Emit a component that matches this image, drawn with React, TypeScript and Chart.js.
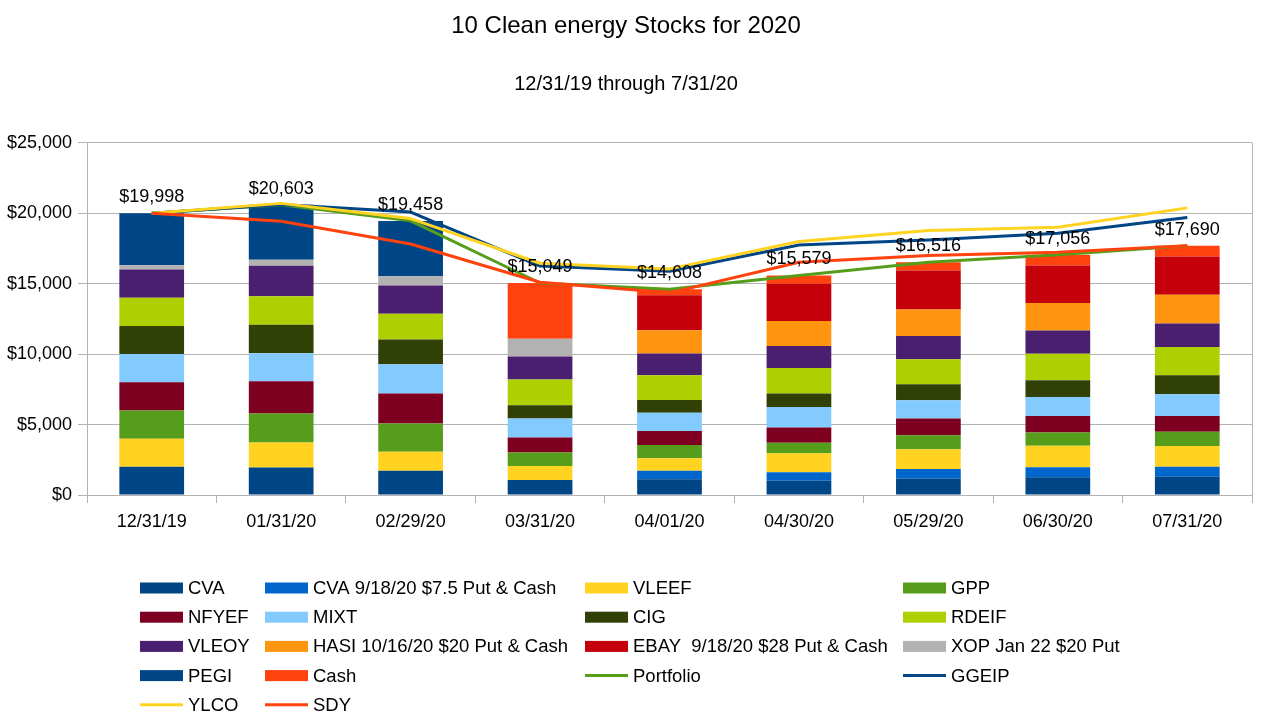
import React, { useEffect, useRef } from 'react';
import { Chart, registerables } from 'chart.js';

Chart.register(...registerables);

const categories = ['12/31/19', '01/31/20', '02/29/20', '03/31/20', '04/01/20', '04/30/20', '05/29/20', '06/30/20', '07/31/20'];

const cva = [2000, 1960, 1720, 1060, 1110, 1015, 1180, 1255, 1300];
const cvaPut = [0, 0, 0, 0, 610, 595, 660, 710, 710];
const vleef = [2000, 1770, 1345, 990, 880, 1345, 1415, 1530, 1465];
const gpp = [2000, 2050, 2010, 970, 945, 750, 990, 950, 1015];
const nfyef = [2000, 2290, 2125, 1060, 990, 1090, 1180, 1155, 1110];
const mixt = [2000, 2000, 2075, 1345, 1300, 1460, 1300, 1365, 1560];
const cig = [2000, 2010, 1770, 940, 900, 950, 1135, 1180, 1345];
const rdeif = [2000, 2030, 1820, 1840, 1770, 1815, 1770, 1890, 2005];
const vleoy = [2000, 2170, 2005, 1630, 1535, 1560, 1650, 1650, 1655];
const hasiPut = [0, 0, 0, 0, 1650, 1770, 1890, 1935, 2055];
const ebayPut = [0, 0, 0, 0, 2480, 2650, 2760, 2670, 2715];
const xopPut = [300, 425, 660, 1250, 0, 0, 0, 0, 0];
const pegi = [3698, 3898, 3928, 0, 0, 0, 0, 0, 0];
const cash = [0, 0, 0, 3964, 438, 579, 586, 766, 755];

const portfolio = [19998, 20603, 19458, 15049, 14608, 15579, 16516, 17056, 17690];
const ggeip = [19998, 20620, 20080, 16250, 15880, 17750, 18100, 18580, 19700];
const ylco = [19998, 20700, 19620, 16450, 16050, 17990, 18770, 19000, 20380];
const sdy = [19998, 19430, 17820, 15100, 14350, 16520, 17000, 17230, 17700];

const yTicks = [0, 5000, 10000, 15000, 20000, 25000];

const FONT = '"Liberation Sans", Arial, sans-serif';

const fmt = (v: number) => '$' + Math.round(v).toLocaleString('en-US');

export default function App() {
  const ref = useRef<HTMLCanvasElement>(null);

  useEffect(() => {
    document.body.style.margin = '0';
    const canvas = ref.current;
    if (!canvas) return;

    const barSeries = [
      { label: 'CVA', data: cva, color: '#004586' },
      { label: 'CVA 9/18/20 $7.5 Put & Cash', data: cvaPut, color: '#0066cc' },
      { label: 'VLEEF', data: vleef, color: '#ffd320' },
      { label: 'GPP', data: gpp, color: '#579d1c' },
      { label: 'NFYEF', data: nfyef, color: '#7e0021' },
      { label: 'MIXT', data: mixt, color: '#83caff' },
      { label: 'CIG', data: cig, color: '#314004' },
      { label: 'RDEIF', data: rdeif, color: '#aecf00' },
      { label: 'VLEOY', data: vleoy, color: '#4b1f6f' },
      { label: 'HASI 10/16/20 $20 Put & Cash', data: hasiPut, color: '#ff950e' },
      { label: 'EBAY  9/18/20 $28 Put & Cash', data: ebayPut, color: '#c5000b' },
      { label: 'XOP Jan 22 $20 Put', data: xopPut, color: '#b2b2b2' },
      { label: 'PEGI', data: pegi, color: '#004586' },
      { label: 'Cash', data: cash, color: '#ff420e' },
    ];
    const lineSeries = [
      { label: 'Portfolio', data: portfolio, color: '#579d1c' },
      { label: 'GGEIP', data: ggeip, color: '#004586' },
      { label: 'YLCO', data: ylco, color: '#ffd320' },
      { label: 'SDY', data: sdy, color: '#ff420e' },
    ];

    const datasets: any[] = [
      ...barSeries.map((s) => ({
        type: 'bar',
        label: s.label,
        data: s.data,
        backgroundColor: s.color,
        borderWidth: 0,
        stack: 'holdings',
        order: 10,
        barPercentage: 0.5,
        categoryPercentage: 1,
      })),
      ...lineSeries.map((s, i) => ({
        type: 'line',
        label: s.label,
        data: s.data,
        borderColor: s.color,
        backgroundColor: s.color,
        borderWidth: 3,
        pointRadius: 0,
        pointHoverRadius: 0,
        fill: false,
        tension: 0,
        borderJoinStyle: 'round',
        stack: 'line' + i,
        order: 4 - i,
      })),
    ];

    const legendCols = [140, 265, 585, 903];
    const legendTop = 588;
    const legendRowGap = 29.2;

    const frameAndLabels = {
      id: 'frameAndLabels',
      afterDatasetsDraw(chart: any) {
        const { ctx, chartArea, scales } = chart;
        ctx.save();
        ctx.strokeStyle = '#b3b3b3';
        ctx.lineWidth = 1;
        ctx.beginPath();
        ctx.moveTo(Math.round(chartArea.right) + 0.5, chartArea.top);
        ctx.lineTo(Math.round(chartArea.right) + 0.5, chartArea.bottom);
        ctx.stroke();
        ctx.fillStyle = '#000';
        ctx.font = `18px ${FONT}`;
        ctx.textAlign = 'center';
        ctx.textBaseline = 'middle';
        portfolio.forEach((v, i) => {
          const x = scales.x.getPixelForValue(i);
          const y = scales.y.getPixelForValue(v);
          ctx.fillText(fmt(v), x, y - 16);
        });
        ctx.restore();
      },
      afterDraw(chart: any) {
        const { ctx } = chart;
        ctx.save();
        ctx.font = `18.5px ${FONT}`;
        ctx.textAlign = 'left';
        ctx.textBaseline = 'middle';
        chart.data.datasets.forEach((ds: any, i: number) => {
          const col = i % 4;
          const row = Math.floor(i / 4);
          const x = legendCols[col];
          const y = legendTop + row * legendRowGap;
          if (ds.type === 'line') {
            ctx.strokeStyle = ds.borderColor;
            ctx.lineWidth = 3;
            ctx.beginPath();
            ctx.moveTo(x, y);
            ctx.lineTo(x + 43, y);
            ctx.stroke();
          } else {
            ctx.fillStyle = ds.backgroundColor;
            ctx.fillRect(x, y - 5.5, 43, 11);
          }
          ctx.fillStyle = '#000';
          ctx.fillText(ds.label, x + 48, y + 1);
        });
        ctx.restore();
      },
    };

    const chart = new Chart(canvas, {
      type: 'bar',
      data: { labels: categories, datasets },
      options: {
        responsive: false,
        animation: false,
        devicePixelRatio: 1,
        layout: { padding: { left: 0, right: 15, top: 0, bottom: 150 } },
        plugins: {
          legend: { display: false },
          tooltip: { enabled: false },
          title: {
            display: true,
            text: '10 Clean energy Stocks for 2020',
            color: '#000',
            font: { family: FONT, size: 24, weight: 'normal' },
            padding: { top: 12, bottom: 0 },
          },
          subtitle: {
            display: true,
            text: '12/31/19 through 7/31/20',
            color: '#000',
            font: { family: FONT, size: 20, weight: 'normal' },
            padding: { top: 32, bottom: 46 },
          },
        },
        scales: {
          x: {
            stacked: true,
            offset: true,
            grid: {
              offset: true,
              drawOnChartArea: false,
              drawTicks: true,
              tickLength: 8,
              color: '#b3b3b3',
            },
            border: { display: true, color: '#b3b3b3' },
            ticks: {
              color: '#000',
              font: { family: FONT, size: 18 },
              padding: 8,
              maxRotation: 0,
              autoSkip: false,
            },
            afterFit(scale: any) {
              scale.height = 74;
            },
          },
          y: {
            stacked: true,
            min: 0,
            max: 25000,
            grid: { color: '#b3b3b3', tickLength: 9 },
            border: { display: true, color: '#b3b3b3' },
            afterBuildTicks(scale: any) {
              scale.ticks = yTicks.map((v) => ({ value: v }));
            },
            ticks: {
              color: '#000',
              font: { family: FONT, size: 18 },
              padding: 6,
              callback: (v: any) => fmt(Number(v)),
            },
            afterFit(scale: any) {
              scale.width = 87;
            },
          },
        },
      } as any,
      plugins: [frameAndLabels],
    });

    return () => chart.destroy();
  }, []);

  return (
    <div style={{ width: 1267, height: 719, position: 'relative' }}>
      <canvas ref={ref} width={1267} height={719} style={{ display: 'block' }} />
    </div>
  );
}
